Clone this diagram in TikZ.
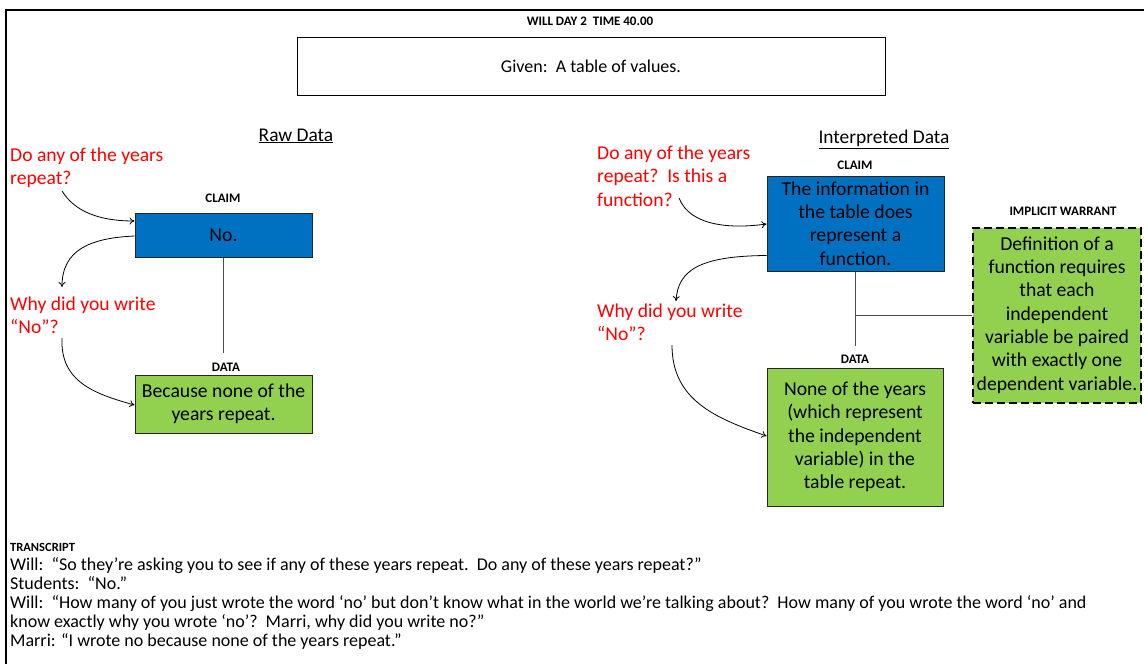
\documentclass[tikz,border=0pt]{standalone}
\usepackage{fontspec}
\setmainfont{Carlito}
\usetikzlibrary{arrows.meta,calc}
\definecolor{claimblue}{HTML}{0070C0}
\definecolor{datagreen}{HTML}{92D050}
\definecolor{askred}{HTML}{FF0000}
\definecolor{edgegray}{HTML}{262626}
\begin{document}
\begin{tikzpicture}[x=1pt,y=-1pt,
  boxtext/.style={font=\fontsize{19.7}{23.3}\selectfont, align=center, text=black},
  claimbox/.style={boxtext, draw=edgegray, line width=1pt, fill=claimblue, inner sep=0pt},
  databox/.style={boxtext, draw=edgegray, line width=1pt, fill=datagreen, inner sep=0pt},
  warrantbox/.style={boxtext, draw=black, line width=2pt, dash pattern=on 8pt off 4pt, fill=datagreen, inner sep=0pt},
  tag/.style={font=\fontsize{13}{15}\selectfont\bfseries, inner sep=0pt},
  question/.style={font=\fontsize{19.6}{23.3}\selectfont, text=askred, align=left, inner sep=0pt},
  heading/.style={font=\fontsize{19.4}{22}\selectfont, inner sep=0pt},
  link/.style={draw=black!70, line width=1pt},
  ask/.style={draw=black, line width=0.8pt, -{To[length=5pt,width=7pt]}},
  script/.style={font=\fontsize{18}{19}\selectfont, inner sep=0pt, anchor=base west}
]
\useasboundingbox (0,0) rectangle (1144,664);
% page frame (top and left edges)
\draw[line width=2.5pt] (6,664) -- (6,10) -- (1144,10);

% title and given
\node[tag] (title) at (590,21) {WILL DAY 2\ \ TIME 40.00};
\node[draw=black, line width=1pt, minimum width=588pt, minimum height=58pt, inner sep=0pt,
      font=\fontsize{18}{21}\selectfont] (given) at (591,66) {Given:\ \ A table of values.};

% ---------- raw data ----------
\node[heading] (rawhd) at (296,136) {\underline{Raw Data}};
\node[question, anchor=west] (q1) at (10,168) {Do any of the years\\repeat?};
\node[tag] (claimA) at (223,198) {CLAIM};
\node[claimbox, minimum width=177pt, minimum height=44pt] (clA) at (223.5,235) {No.};
\node[question, anchor=west] (q2) at (10,315) {Why did you write\\“No”?};
\node[tag] (dataA) at (226,367) {DATA};
\node[databox, minimum width=177pt, minimum height=58pt] (daA) at (223.5,404) {Because none of the\\years repeat.};
\draw[link] (clA.south) -- ($(clA.south)+(0,95)$) coordinate (linkA);

\coordinate (q1a) at (62,191);
\coordinate (q2t) at (62,287);
\coordinate (q2b) at (62,338);
\draw[ask] (q1a) .. controls (75,212) and (100,221) .. ($(clA.west)+(0,-14)$);
\draw[ask] ($(clA.west)+(0,1)$) .. controls (90,238) and (62,250) .. (q2t);
\draw[ask] (q2b) .. controls (60,382) and (95,394) .. ($(daA.west)+(0,1)$);

% ---------- interpreted data ----------
\node[heading] (inthd) at (884,139) {\underline{Interpreted Data}};
\node[question, anchor=west] (q3) at (597,176) {Do any of the years\\repeat?\ \ Is this a\\function?};
\node[tag] (claimB) at (855,165) {CLAIM};
\node[claimbox, minimum width=177pt, minimum height=95pt] (clB) at (855.5,223.5) {The information in\\the table does\\represent a\\function.};
\node[tag] (warrhd) at (1063,211) {IMPLICIT WARRANT};
\node[warrantbox, minimum width=168pt, minimum height=175pt] (warr) at (1057,315) {Definition of a\\function requires\\that each\\independent\\variable be paired\\with exactly one\\dependent variable.};
\node[question, anchor=west] (q4) at (597,322) {Why did you write\\“No”?};
\node[tag] (dataB) at (855,359) {DATA};
\node[databox, minimum width=176pt, minimum height=138pt] (daB) at (855,437) {None of the years\\(which represent\\the independent\\variable) in the\\table repeat.};

\draw[link] (clB.south) -- ($(clB.south)+(0,74)$) coordinate (linkB);
\draw[link] ($(clB.south)+(0,44)$) coordinate (joinB) -- (joinB -| warr.west);

\coordinate (q3a) at (679,198);
\coordinate (q4t) at (676,301);
\coordinate (q4b) at (672,345);
\draw[ask] (q3a) .. controls (690,226) and (730,229) .. ($(clB.west)+(0,0.5)$);
\draw[ask] ($(clB.west)+(0,32)$) .. controls (700,256) and (678,270) .. (q4t);
\draw[ask] (q4b) .. controls (672,400) and (715,418) .. ($(daB.west)+(0,-1)$);

% ---------- transcript ----------
\node[tag, anchor=base west] (trhd) at (10,551) {\fontsize{12.5}{14}\selectfont TRANSCRIPT};
\node[script] (t1) at (10,570) {Will:\ \ “So they’re asking you to see if any of these years repeat.\ \ Do any of these years repeat?”};
\node[script] (t2) at (10,589) {Students:\ \ “No.”};
\node[script] (t3) at (10,608) {Will:\ \ “How many of you just wrote the word ‘no’ but don’t know what in the world we’re talking about?\ \ How many of you wrote the word ‘no’ and};
\node[script] (t4) at (10,627) {know exactly why you wrote ‘no’?\ \ Marri, why did you write no?”};
\node[script] (t5) at (10,646) {Marri: “I wrote no because none of the years repeat.”};
\end{tikzpicture}
\end{document}
